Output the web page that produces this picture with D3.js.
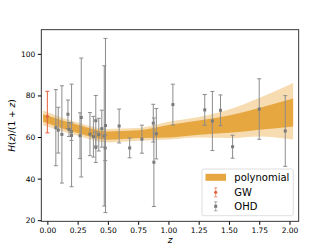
<!DOCTYPE html>
<html>
<head>
<meta charset="utf-8">
<script src="https://cdn.jsdelivr.net/npm/d3@7"></script>
<style>
  body { margin: 0; background: #fff; }
  svg { display: block; font-family: "DejaVu Sans", sans-serif; }
</style>
</head>
<body>
<div id="chart"></div>
<script>
// polynomial reconstruction band (1 and 2 sigma)
const zBand = [-0.035, 0.25, 0.5, 0.75, 1.0, 1.25, 1.5, 1.75, 2.03];
const bandLo1 = [67.4, 61.9, 58.7, 59.5, 59.8, 61.1, 62.0, 63.5, 65.1];
const bandHi1 = [71.0, 65.9, 62.7, 63.2, 65.8, 67.9, 70.4, 74.0, 78.5];
const bandLo2 = [65.7, 60.6, 57.4, 58.2, 58.8, 59.8, 59.5, 60.3, 58.8];
const bandHi2 = [72.8, 67.0, 63.9, 64.3, 67.3, 69.6, 73.2, 78.8, 86.0];

// OHD points, H(z)/(1+z) and error
const zOhd = [0.07, 0.09, 0.12, 0.17, 0.179, 0.199, 0.2, 0.27, 0.28, 0.352, 0.3802, 0.4, 0.4004,
  0.4247, 0.4497, 0.47, 0.4783, 0.48, 0.593, 0.68, 0.781, 0.875, 0.88, 0.9, 1.037, 1.3, 1.363,
  1.43, 1.53, 1.75, 1.965];
const hOhd = [64.49, 63.30, 61.25, 70.94, 63.61, 62.55, 60.75, 60.63, 69.38, 61.39, 60.14, 67.86, 55.00,
  61.14, 64.02, 60.54, 54.71, 65.54, 65.29, 54.76, 58.96, 66.67, 47.87, 61.58, 75.60, 73.04, 67.71,
  72.84, 55.34, 73.45, 62.90];
const errOhd = [18.32, 11.01, 23.39, 6.84, 3.39, 4.17, 24.67, 11.02, 28.59, 10.36, 9.78, 12.14, 7.28,
  7.86, 8.90, 33.74, 6.09, 41.89, 8.16, 4.76, 6.74, 9.07, 21.28, 12.11, 9.82, 7.39, 14.22,
  7.41, 5.53, 14.55, 17.00];

// GW point (asymmetric error)
const zGw = [0.0];
const hGw = [70];
const errGwLo = [8];
const errGwHi = [12];

const xTicks = [0, 0.25, 0.5, 0.75, 1.0, 1.25, 1.5, 1.75, 2.0];
const yTicks = [20, 40, 60, 80, 100];
const legendLabels = ["polynomial", "GW", "OHD"];

const width = 332, height = 249;
const margin = {top: 29.7, right: 33.3, bottom: 27.7, left: 41.3};

const colBand1 = "#e6a640", colBand2 = "#f6dcb0";
const colGw = "#e8603c", colOhd = "#8c8c8c";

const x = d3.scaleLinear().domain([-0.05, 2.076]).range([margin.left, width - margin.right]);
const y = d3.scaleLinear().domain([19.46, 111.62]).range([height - margin.bottom, margin.top]);

const svg = d3.select("#chart").append("svg")
  .attr("width", width).attr("height", height);

const band = zBand.map((z, i) => ({z, lo1: bandLo1[i], hi1: bandHi1[i], lo2: bandLo2[i], hi2: bandHi2[i]}));

svg.append("path").datum(band)
  .attr("fill", colBand2)
  .attr("d", d3.area().curve(d3.curveMonotoneX).x(d => x(d.z)).y0(d => y(d.lo2)).y1(d => y(d.hi2)));
svg.append("path").datum(band)
  .attr("fill", colBand1)
  .attr("d", d3.area().curve(d3.curveMonotoneX).x(d => x(d.z)).y0(d => y(d.lo1)).y1(d => y(d.hi1)));

// error bars
const errorbar = (g, color, lw) => {
  g.append("line")
    .attr("x1", d => x(d.z)).attr("x2", d => x(d.z))
    .attr("y1", d => y(d.lo)).attr("y2", d => y(d.hi))
    .attr("stroke", color).attr("stroke-width", lw);
  g.append("line")
    .attr("x1", d => x(d.z) - 2).attr("x2", d => x(d.z) + 2)
    .attr("y1", d => y(d.lo)).attr("y2", d => y(d.lo))
    .attr("stroke", color).attr("stroke-width", lw);
  g.append("line")
    .attr("x1", d => x(d.z) - 2).attr("x2", d => x(d.z) + 2)
    .attr("y1", d => y(d.hi)).attr("y2", d => y(d.hi))
    .attr("stroke", color).attr("stroke-width", lw);
};

const ohd = zOhd.map((z, i) => ({z, h: hOhd[i], lo: hOhd[i] - errOhd[i], hi: hOhd[i] + errOhd[i]}));
const gO = svg.append("g").selectAll("g").data(ohd).join("g");
errorbar(gO, colOhd, 1);
gO.append("rect")
  .attr("x", d => x(d.z) - 1.5).attr("y", d => y(d.h) - 1.5)
  .attr("width", 3).attr("height", 3)
  .attr("fill", "#7a7a7a");

const gw = zGw.map((z, i) => ({z, h: hGw[i], lo: hGw[i] - errGwLo[i], hi: hGw[i] + errGwHi[i]}));
const gG = svg.append("g").selectAll("g").data(gw).join("g");
errorbar(gG, colGw, 1);
gG.append("circle")
  .attr("cx", d => x(d.z)).attr("cy", d => y(d.h)).attr("r", 1.6)
  .attr("fill", colGw);

// axes
svg.append("g")
  .attr("transform", `translate(0,${height - margin.bottom})`)
  .call(d3.axisBottom(x).tickValues(xTicks).tickFormat(d3.format(".2f")).tickSize(3.5).tickPadding(2.5))
  .call(g => g.select(".domain").remove())
  .call(g => g.selectAll("text").attr("font-size", 7.5).attr("fill", "#000").attr("font-family", "DejaVu Sans"));

svg.append("g")
  .attr("transform", `translate(${margin.left},0)`)
  .call(d3.axisLeft(y).tickValues(yTicks).tickSize(3.5).tickPadding(2.5))
  .call(g => g.select(".domain").remove())
  .call(g => g.selectAll("text").attr("font-size", 7.5).attr("fill", "#000").attr("font-family", "DejaVu Sans"));

svg.append("rect")
  .attr("x", margin.left).attr("y", margin.top)
  .attr("width", width - margin.left - margin.right)
  .attr("height", height - margin.top - margin.bottom)
  .attr("fill", "none").attr("stroke", "#222").attr("stroke-width", 0.9);

// axis labels
svg.append("text")
  .attr("x", (margin.left + width - margin.right) / 2).attr("y", 243)
  .attr("text-anchor", "middle").attr("font-size", 9).attr("font-style", "italic")
  .text("z");

const yl = svg.append("text")
  .attr("transform", `translate(15,${(margin.top + height - margin.bottom) / 2}) rotate(-90)`)
  .attr("text-anchor", "middle").attr("font-size", 9);
yl.append("tspan").attr("font-style", "italic").text("H");
yl.append("tspan").text("(");
yl.append("tspan").attr("font-style", "italic").text("z");
yl.append("tspan").text(")/(1 + ");
yl.append("tspan").attr("font-style", "italic").text("z");
yl.append("tspan").text(")");

// legend
const lg = svg.append("g").attr("transform", "translate(202,169)");
lg.append("rect")
  .attr("width", 91.3).attr("height", 46.7).attr("rx", 2)
  .attr("fill", "#fff").attr("fill-opacity", 0.8)
  .attr("stroke", "#d6d6d6").attr("stroke-width", 0.8);
const rowY = [8.3, 23.3, 37.3];
lg.append("rect").attr("x", 3.5).attr("y", rowY[0] - 3.5).attr("width", 20.5).attr("height", 7)
  .attr("fill", colBand1);
const legBar = (cy, color, square) => {
  const item = lg.append("g");
  item.append("line").attr("x1", 13.7).attr("x2", 13.7).attr("y1", cy - 4.5).attr("y2", cy + 4.5)
    .attr("stroke", color).attr("stroke-opacity", 0.6);
  [cy - 4.5, cy + 4.5].forEach(v => item.append("line")
    .attr("x1", 12).attr("x2", 15.4).attr("y1", v).attr("y2", v)
    .attr("stroke", color).attr("stroke-opacity", 0.6));
  if (square) item.append("rect").attr("x", 12.2).attr("y", cy - 1.5).attr("width", 3).attr("height", 3).attr("fill", color);
  else item.append("circle").attr("cx", 13.7).attr("cy", cy).attr("r", 1.6).attr("fill", color);
};
legBar(rowY[1], colGw, false);
legBar(rowY[2], "#7a7a7a", true);
lg.selectAll("text.lab").data(legendLabels).join("text")
  .attr("class", "lab")
  .attr("x", 32.3).attr("y", (d, i) => rowY[i]).attr("dy", "0.35em")
  .attr("font-size", 10).text(d => d);
</script>
</body>
</html>
